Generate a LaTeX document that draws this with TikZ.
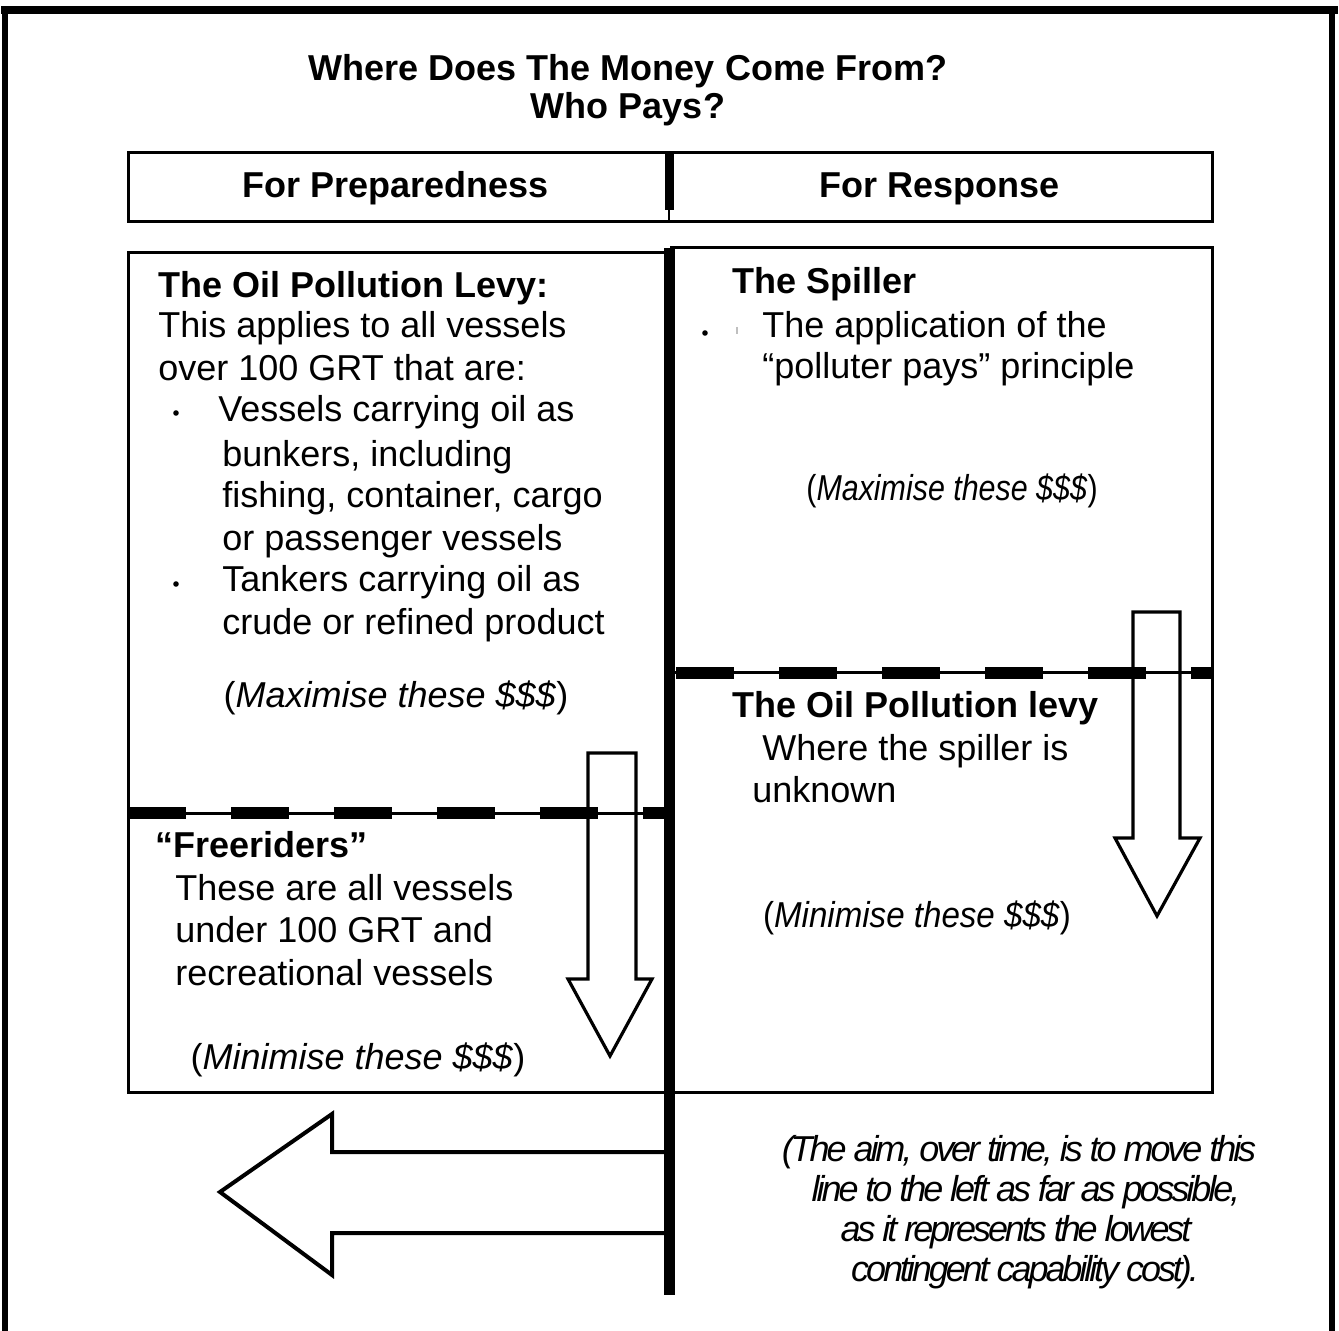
\documentclass[tikz,border=0pt]{standalone}
\usepackage{fontspec}
\setmainfont{Liberation Sans}
\newfontfamily\condit[LetterSpace=-8.5]{Liberation Sans}
\begin{document}
\begin{tikzpicture}[x=0.5pt,y=-0.5pt,
  base/.style={inner sep=0pt, font=\fontsize{18}{21}\selectfont},
  L/.style={base, anchor=base west},
  C/.style={base, anchor=base},
  bold/.style={font=\fontsize{18}{21}\selectfont\bfseries},
  cond/.style={font=\fontsize{18}{21}\selectfont\condit\itshape},
  box/.style={draw, line width=1.5pt},
  hollow/.style={draw, line width=1.6pt, line join=miter},
  bul/.style={circle, fill, inner sep=0pt, minimum size=2.8pt},
  dashthin/.style={line width=1.5pt},
  dashthick/.style={line width=6pt, dash pattern=on 29pt off 22.5pt},
]
\path[use as bounding box] (0,0) rectangle (1339,1331);
% outer frame
\draw[line width=4pt] (1,10) -- (1338,10);
\draw[line width=3pt] (5,8) -- (5,1331);
\draw[line width=3pt] (1332,8) -- (1332,1331);

% title
\node[C, bold] (t1) at (628,81) {Where Does The Money Come From?};
\node[C, bold] (t2) at (628,119) {Who Pays?};

% header
\draw[box] (128,153) rectangle (1212,222);
\draw[line width=4.5pt] (669,153) -- (669,210);
\draw[line width=1pt] (669,210) -- (669,222);
\node[C, bold] (h1) at (396,198) {For Preparedness};
\node[C, bold] (h2) at (940,198) {For Response};

% boxes
\draw[box] (128,253) rectangle (666,1092);
\draw[box] (671,248) rectangle (1212,1092);

% dashed separators
\draw[dashthin] (128,813) -- (665,813);
\draw[dashthick] (128,813) -- (665,813);
\draw[dashthin] (674,673) -- (1212,673);
\draw[dashthick] (676,673) -- (1212,673);

% central line
\draw[line width=5.5pt] (669,248) -- (669,1295);

% down arrows
\draw[hollow] (588,753) -- (636,753) -- (636,979) -- (652,979) -- (610,1056) -- (568,979) -- (588,979) -- cycle;
\draw[hollow] (1133,612) -- (1180,612) -- (1180,838) -- (1200,838) -- (1157,916) -- (1115,838) -- (1133,838) -- cycle;
% big left arrow
\draw[hollow, line width=2pt] (666,1152) -- (332,1152) -- (332,1114) -- (220,1192) -- (332,1275) -- (332,1233) -- (666,1233);

% left box text
\node[L, bold] (a1) at (158,298) {The Oil Pollution Levy:};
\node[L] (a2) at (158,338) {This applies to all vessels};
\node[L] (a3) at (158,381) {over 100 GRT that are:};
\node[bul] (ab1) at (176,413) {};
\node[L] (a4) at (218,422) {Vessels carrying oil as};
\node[L] (a5) at (222,467) {bunkers, including};
\node[L] (a6) at (222,508) {fishing, container, cargo};
\node[L] (a7) at (222,551) {or passenger vessels};
\node[bul] (ab2) at (176,584) {};
\node[L] (a8) at (222,592) {Tankers carrying oil as};
\node[L] (a9) at (222,635) {crude or refined product};
\node[C] (a10) at (396,708) {(\textit{Maximise these \$\$\$})};

\node[L, bold] (f1) at (155,857) {“Freeriders”};
\node[L] (f2) at (175,900) {These are all vessels};
\node[L] (f3) at (175,942) {under 100 GRT and};
\node[L] (f4) at (175,985) {recreational vessels};
\node[C] (f5) at (358,1069) {(\textit{Minimise these \$\$\$})};

% right box text
\node[L, bold] (s1) at (732,294) {The Spiller};
\node[bul] (sb1) at (705,333) {};
\draw[gray!50, line width=0.6pt] (737,327) -- (737,334);
\node[L] (s2) at (762,338) {The application of the};
\node[L] (s3) at (762,379) {“polluter pays” principle};
\node[C] (s4) at (952,501) {\scalebox{0.845}[1]{(\textit{Maximise these \$\$\$})}};

\node[L, bold] (o1) at (732,718) {The Oil Pollution levy};
\node[L] (o2) at (762,761) {Where the spiller is};
\node[L] (o3) at (752,802) {unknown};
\node[C] (o4) at (917,927) {\scalebox{0.92}[1]{(\textit{Minimise these \$\$\$})}};

% bottom note
\node[C, cond] (n1) at (1019,1161) {(The aim, over time, is to move this};
\node[C, cond] (n2) at (1026,1201) {line to the left as far as possible,};
\node[C, cond] (n3) at (1016,1241) {as it represents the lowest};
\node[C, cond] (n4) at (1025,1281) {contingent capability cost).};
\end{tikzpicture}
\end{document}
